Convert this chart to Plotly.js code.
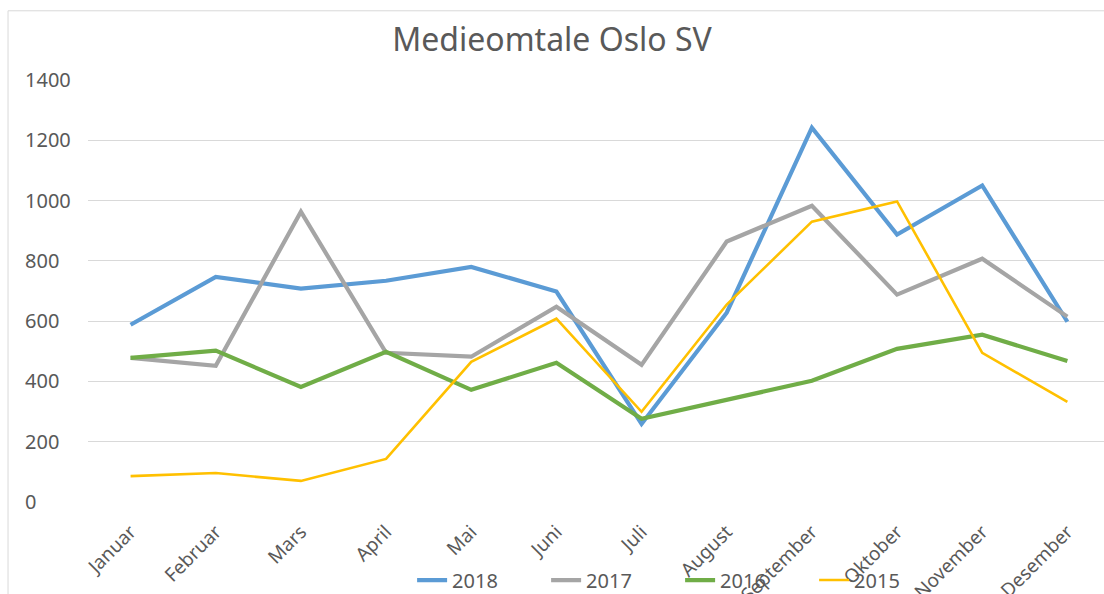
<!DOCTYPE html>
<html>
<head>
<meta charset="utf-8">
<script src="https://cdn.plot.ly/plotly-3.0.1.min.js"></script>
<style>
html,body{margin:0;padding:0;background:#fff;}
#chart{width:1104px;height:594px;}
</style>
</head>
<body>
<div id="chart"></div>
<script>
const months = ["Januar","Februar","Mars","April","Mai","Juni","Juli","August","September","Oktober","November","Desember"];
const series2018 = [588, 747, 708, 734, 780, 698, 259, 628, 1242, 887, 1050, 598];
const series2017 = [478, 452, 963, 495, 482, 648, 455, 864, 983, 688, 807, 615];
const series2016 = [478, 502, 382, 498, 372, 462, 276, 340, 402, 508, 555, 468];
const series2015 = [86, 96, 70, 143, 465, 608, 299, 655, 930, 997, 495, 332];
const yTicks = [0, 200, 400, 600, 800, 1000, 1200, 1400];

const seriesNames = ["2018", "2017", "2016", "2015"];
const seriesData = [series2018, series2017, series2016, series2015];
const colors = ["#5B9BD5", "#A5A5A5", "#70AD47", "#FFC000"];
const widths = [4.2, 4.2, 4.2, 2.6];

const traces = seriesData.map((d, i) => ({
  type: "scatter",
  mode: "lines",
  x: months,
  y: d,
  name: seriesNames[i],
  line: {color: colors[i], width: widths[i]},
  hoverinfo: "x+y+name"
}));

const layout = {
  width: 1104,
  height: 594,
  margin: {l: 88, r: 0, t: 80, b: 92, autoexpand: false},
  paper_bgcolor: "#fff",
  plot_bgcolor: "#fff",
  font: {family: "Noto Sans, Open Sans, sans-serif", color: "#595959"},
  title: {
    text: "Medieomtale Oslo SV",
    font: {size: 32, color: "#595959", family: "Noto Sans, sans-serif"},
    x: 0.5, xref: "container", xanchor: "center",
    y: 37, yref: "container", yanchor: "middle"
  },
  xaxis: {
    type: "category",
    range: [-0.5, 11.43],
    tickangle: -45,
    showgrid: false,
    zeroline: false,
    showline: false,
    ticks: "",
    ticklabelstandoff: 14,
    tickfont: {size: 19, color: "#595959"},
    fixedrange: true
  },
  yaxis: {
    range: [0, 1400],
    tickvals: yTicks,
    ticktext: yTicks.map(String),
    showgrid: true,
    gridcolor: "#D9D9D9",
    gridwidth: 1,
    zeroline: false,
    showline: false,
    ticks: "",
    ticklabelposition: "inside",
    ticklabeloverflow: "allow",
    ticklabelstandoff: -66,
    tickfont: {size: 20, color: "#595959"},
    fixedrange: true
  },
  showlegend: true,
  legend: {
    orientation: "h",
    x: 0.319, xanchor: "left",
    y: -0.185, yanchor: "middle",
    yref: "paper",
    entrywidth: 89,
    entrywidthmode: "pixels",
    font: {size: 20, color: "#595959"},
    bgcolor: "rgba(0,0,0,0)",
    itemwidth: 30
  },
  shapes: [
    {type: "line", xref: "paper", yref: "paper", x0: -0.0787, x1: 1.01, y0: 1.164, y1: 1.164, line: {color: "#D9D9D9", width: 1}},
    {type: "line", xref: "paper", yref: "paper", x0: -0.0787, x1: -0.0787, y0: 1.164, y1: -0.25, line: {color: "#D9D9D9", width: 1}}
  ]
};

Plotly.newPlot("chart", traces, layout, {displayModeBar: false, staticPlot: true});
</script>
</body>
</html>
